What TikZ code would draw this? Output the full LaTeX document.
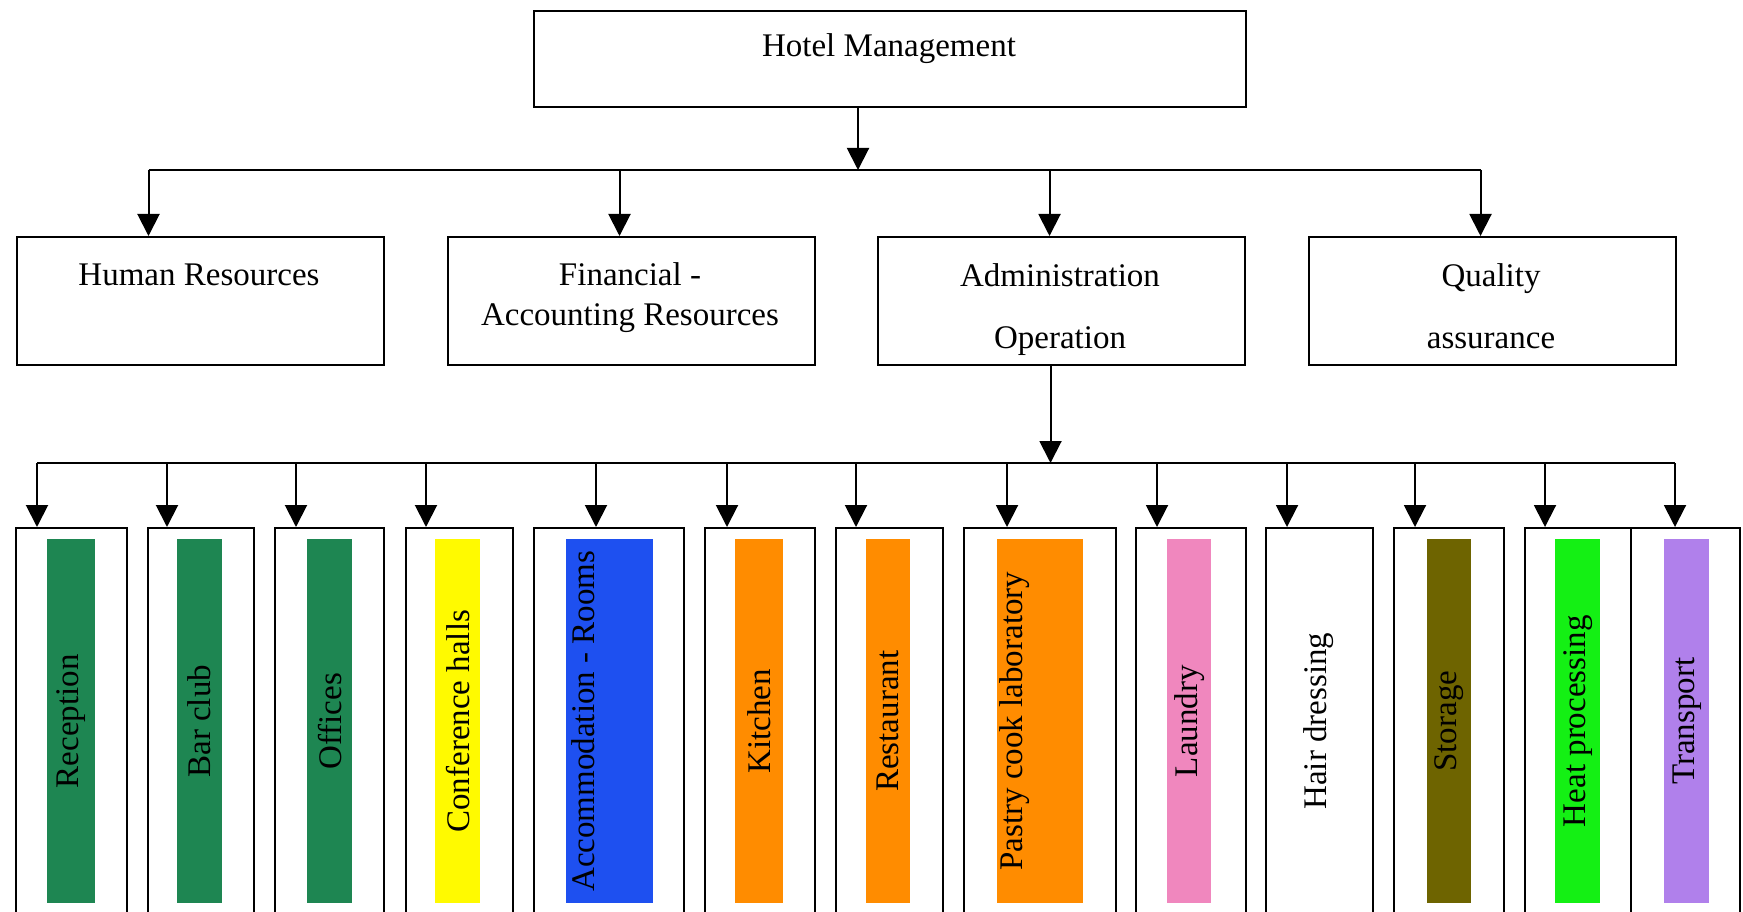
\documentclass[tikz,border=0pt]{standalone}
\usepackage{fontspec}
\setmainfont{Liberation Serif}
\usetikzlibrary{arrows.meta,positioning}

\definecolor{deptgreen}{RGB}{30,134,82}
\definecolor{deptyellow}{RGB}{255,250,0}
\definecolor{deptblue}{RGB}{30,80,240}
\definecolor{deptorange}{RGB}{255,140,0}
\definecolor{deptpink}{RGB}{240,135,190}
\definecolor{deptolive}{RGB}{110,100,0}
\definecolor{deptlime}{RGB}{20,240,20}
\definecolor{deptpurple}{RGB}{176,128,235}

\tikzset{
  unitbox/.style={draw, line width=2pt, inner sep=0pt, anchor=north west,
    minimum width=367pt, minimum height=128pt},
  deptbox/.style={draw, line width=2pt, fill=white, inner sep=0pt, anchor=north west,
    minimum height=420pt},
  strip/.style={fill=#1, inner sep=0pt, anchor=north west, minimum height=364pt},
  vtext/.style={rotate=90, inner sep=0pt},
  conn/.style={line width=2pt, -{Triangle[length=22pt,width=22pt]}},
  bus/.style={line width=2pt},
}

\begin{document}
\begin{tikzpicture}[x=1pt, y=-1pt, font=\fontsize{33}{40}\selectfont]
  \clip (0,0) rectangle (1743,912);
  \fill[white] (0,0) rectangle (1743,912);

  % top
  \node[draw, line width=2pt, inner sep=0pt, anchor=north west,
    minimum width=712pt, minimum height=96pt] (hm) at (533,10) {};
  \node[anchor=base] (hm-text) at (889,57) {Hotel Management};

  % second level
  \node[unitbox] (hr) at (16,236) {};
  \node[unitbox] (fin) at (447,236) {};
  \node[unitbox] (adm) at (877,236) {};
  \node[unitbox] (qa) at (1308,236) {};

  \node[anchor=base] (hr-text) at (199,285) {Human Resources};
  \node[anchor=base] (fin-text1) at (630,285) {Financial -};
  \node[anchor=base] (fin-text2) at (630,325) {Accounting Resources};
  \node[anchor=base] (adm-text1) at (1060,286) {Administration};
  \node[anchor=base] (adm-text2) at (1060,348) {Operation};
  \node[anchor=base] (qa-text1) at (1491,286) {Quality};
  \node[anchor=base] (qa-text2) at (1491,348) {assurance};

  \coordinate (top bus) at (0,170);
  \coordinate (low bus) at (0,463);

  \draw[conn] ([xshift=-32pt]hm.south) -- ([xshift=-32pt]hm.south |- top bus);
  \draw[bus] ([xshift=-52pt]hr.north |- top bus) -- ([xshift=-12pt]qa.north |- top bus);
  \foreach \n/\dx in {hr/-52, fin/-12, adm/-12, qa/-12}
    \draw[conn] ([xshift=\dx pt]\n.north |- top bus) -- ([xshift=\dx pt]\n.north);

  % departments
  \foreach \n/\l/\w/\dx in {rec/15/111/22, bc/147/106/20, off/274/109/22,
      conf/405/107/21, acc/533/150/63, kit/704/110/23, rest/835/107/21,
      pas/963/152/44, lau/1135/110/22, hair/1265/107/22, sto/1393/110/22,
      heat/1524/106/21, tra/1630/109/45}
  {
    \node[deptbox, minimum width=\w pt] (\n) at (\l,527) {};
    \draw[conn] ([xshift=\dx pt]\n.north west |- low bus) -- ([xshift=\dx pt]\n.north west);
  }

  \draw[conn] ([xshift=-11pt]adm.south) -- ([xshift=-11pt]adm.south |- low bus);
  \draw[bus] ([xshift=22pt]rec.north west |- low bus) -- ([xshift=45pt]tra.north west |- low bus);

  \foreach \n/\bl/\bw/\c/\t/\tx in {rec/47/48/deptgreen/Reception/0,
      bc/177/45/deptgreen/Bar club/0, off/307/45/deptgreen/Offices/0,
      conf/435/45/deptyellow/Conference halls/0,
      acc/566/87/deptblue/Accommodation - Rooms/-26,
      kit/735/48/deptorange/Kitchen/0, rest/866/44/deptorange/Restaurant/0,
      pas/997/86/deptorange/Pastry cook laboratory/-26,
      lau/1167/44/deptpink/Laundry/0, hair/1296/44/white/Hair dressing/0,
      sto/1427/44/deptolive/Storage/0, heat/1555/45/deptlime/Heat processing/0,
      tra/1664/45/deptpurple/Transport/0}
  {
    \node[strip=\c, minimum width=\bw pt] (\n-bar) at (\bl,539) {};
    \node[vtext] (\n-text) at ([xshift=\tx pt]\n-bar.center) {\t};
  }
\end{tikzpicture}
\end{document}
